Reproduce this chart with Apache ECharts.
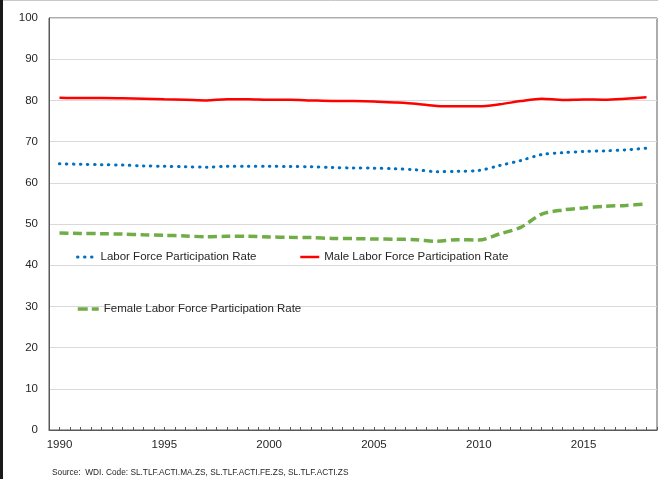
<!DOCTYPE html>
<html>
<head>
<meta charset="utf-8">
<script src="https://cdn.jsdelivr.net/npm/echarts@6/dist/echarts.min.js"></script>
<style>
html,body{margin:0;padding:0;background:#fff;}
#chart{width:658px;height:479px;}
</style>
</head>
<body>
<div id="chart"></div>
<script>
var years = ['1990','1991','1992','1993','1994','1995','1996','1997','1998','1999','2000','2001','2002','2003','2004','2005','2006','2007','2008','2009','2010','2011','2012','2013','2014','2015','2016','2017','2018'];
var totalRate = [64.6,64.5,64.4,64.3,64.1,64.0,63.9,63.8,64.0,64.0,64.0,63.95,63.9,63.7,63.6,63.55,63.4,63.15,62.7,62.8,63.0,64.2,65.4,66.85,67.3,67.6,67.75,68.0,68.4];
var maleRate = [80.65,80.57,80.57,80.5,80.4,80.25,80.16,80.0,80.3,80.3,80.16,80.16,80.0,79.85,79.84,79.76,79.52,79.2,78.65,78.55,78.55,79.05,79.84,80.4,80.1,80.24,80.16,80.4,80.75];
var femaleRate = [47.8,47.7,47.65,47.55,47.4,47.26,47.1,46.9,47.0,47.0,46.85,46.77,46.7,46.5,46.45,46.37,46.3,46.2,45.8,46.2,46.1,47.6,49.2,52.4,53.4,53.9,54.3,54.5,54.9];
var yTicks = {min:0, max:100, interval:10};
var seriesNames = ['Labor Force Participation Rate','Male Labor Force Participation Rate','Female Labor Force Participation Rate'];
var sourceText = 'Source:  WDI. Code: SL.TLF.ACTI.MA.ZS, SL.TLF.ACTI.FE.ZS, SL.TLF.ACTI.ZS';

var FONT = 'Liberation Sans';
var chart = echarts.init(document.getElementById('chart'), null, {renderer:'canvas'});
var legendText = {fontFamily:FONT, fontSize:11.5, color:'#262626'};
var hiddenSym = {opacity:0, borderWidth:0};
var blueLine = {color:'#0070C0', width:3, type:[0.5,6.5], cap:'round'};
var redLine = {color:'#FF0000', width:2.5};
var greenLine = {color:'#70AD47', width:3.5, type:[9,4.5]};
chart.setOption({
  animation:false,
  backgroundColor:'#fff',
  title:{text:sourceText, left:47, top:464, textStyle:{fontFamily:FONT, fontSize:8.3, fontWeight:'normal', color:'#262626'}},
  graphic:[
    {type:'rect', shape:{x:0,y:0,width:3,height:479}, style:{fill:'#1a1a1a'}},
    {type:'line', shape:{x1:3,y1:0.5,x2:658,y2:0.5}, style:{stroke:'#c8c8c8', lineWidth:1}}
  ],
  grid:{left:49, right:1, top:18, bottom:49, show:true, borderColor:'#595959', borderWidth:1, backgroundColor:'transparent'},
  legend:[
    {data:[seriesNames[0]], left:76, top:251, padding:0, itemWidth:18, itemHeight:14, itemStyle:hiddenSym, lineStyle:{width:3, type:[0.5,6.5], cap:'round'}, textStyle:legendText},
    {data:[seriesNames[1]], left:299, top:251, padding:0, itemWidth:19, itemHeight:14, itemStyle:hiddenSym, lineStyle:{width:2.5}, textStyle:legendText},
    {data:[seriesNames[2]], left:76, top:303, padding:0, itemWidth:21, itemHeight:14, itemStyle:hiddenSym, lineStyle:{width:3.5, type:[10,4]}, textStyle:legendText}
  ],
  xAxis:[
    {type:'category', data:years, position:'bottom', boundaryGap:true,
     axisLine:{show:true, lineStyle:{color:'#595959', width:1}},
     axisTick:{show:true, inside:true, length:3, interval:0, alignWithLabel:false, lineStyle:{color:'#595959'}},
     axisLabel:{interval:4, margin:9, fontFamily:FONT, fontSize:11.5, color:'#262626'},
     splitLine:{show:false}},
    {type:'category', data:years, position:'bottom', boundaryGap:true,
     axisLine:{show:false},
     axisTick:{show:true, inside:true, length:3, interval:0, alignWithLabel:true, lineStyle:{color:'#595959'}},
     axisLabel:{show:false}, splitLine:{show:false}}
  ],
  yAxis:{type:'value', min:yTicks.min, max:yTicks.max, interval:yTicks.interval,
    axisLine:{show:true, lineStyle:{color:'#595959'}}, axisTick:{show:false},
    axisLabel:{margin:11, fontFamily:FONT, fontSize:11.5, color:'#262626'},
    splitLine:{lineStyle:{color:'#d9d9d9', width:1}}},
  series:[
    {name:seriesNames[0], type:'line', data:totalRate, smooth:0.3, symbol:'none', showSymbol:false,
     itemStyle:{color:'#0070C0'}, lineStyle:blueLine},
    {name:seriesNames[1], type:'line', data:maleRate, smooth:0.3, symbol:'none', showSymbol:false,
     itemStyle:{color:'#FF0000'}, lineStyle:redLine},
    {name:seriesNames[2], type:'line', data:femaleRate, smooth:0.3, symbol:'none', showSymbol:false,
     itemStyle:{color:'#70AD47'}, lineStyle:greenLine}
  ]
});
</script>
</body>
</html>
